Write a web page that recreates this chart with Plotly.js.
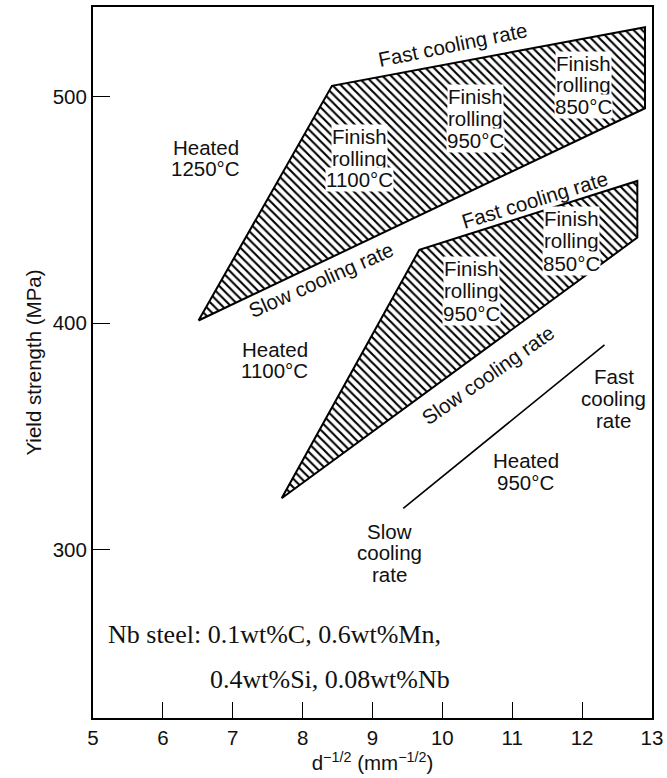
<!DOCTYPE html>
<html>
<head>
<meta charset="utf-8">
<script src="https://cdn.plot.ly/plotly-3.0.1.min.js"></script>
<style>html,body{margin:0;padding:0;background:#fff;}#chart{width:667px;height:778px;}</style>
</head>
<body>
<div id="chart"></div>
<script>
// ---- data ----
const heated1250X = [6.51, 8.42, 12.90, 12.90, 6.51];
const heated1250Y = [401.2, 504.8, 530.7, 494.9, 401.2];
const heated1100X = [7.70, 9.67, 12.79, 12.79, 7.70];
const heated1100Y = [322.7, 432.4, 462.8, 437.8, 322.7];
const heated950X = [9.44, 12.32];
const heated950Y = [318.3, 390.4];
const xTicks = [5, 6, 7, 8, 9, 10, 11, 12, 13];
const yTicks = [300, 400, 500];

// ---- label texts ----
const lblHeated1250 = ["Heated", "1250°C"];
const lblHeated1100 = ["Heated", "1100°C"];
const lblHeated950 = ["Heated", "950°C"];
const lblFR1100 = ["Finish", "rolling", "1100°C"];
const lblFR950a = ["Finish", "rolling", "950°C"];
const lblFR850a = ["Finish", "rolling", "850°C"];
const lblFR950b = ["Finish", "rolling", "950°C"];
const lblFR850b = ["Finish", "rolling", "850°C"];
const lblFastRight = ["Fast", "cooling", "rate"];
const lblSlowBottom = ["Slow", "cooling", "rate"];
const lblFast = "Fast cooling rate";
const lblSlow = "Slow cooling rate";
const noteLines = ["Nb steel: 0.1wt%C, 0.6wt%Mn,", "0.4wt%Si, 0.08wt%Nb"];

const SANS = "Liberation Sans, Arial, Helvetica, sans-serif";
const SERIF = "Liberation Serif, Times New Roman, serif";
const INK = "#111";
const sansFont = {family: SANS, size: 20.5, color: INK};

const hatch = {shape: "\\", size: 6, solidity: 0.35, fgcolor: "#000", bgcolor: "#fff"};

const traces = [
  {x: heated1250X, y: heated1250Y, type: "scatter", mode: "lines", fill: "toself",
   fillcolor: "#fff", fillpattern: hatch, line: {color: "#000", width: 2}, hoverinfo: "skip"},
  {x: heated1100X, y: heated1100Y, type: "scatter", mode: "lines", fill: "toself",
   fillcolor: "#fff", fillpattern: hatch, line: {color: "#000", width: 2}, hoverinfo: "skip"},
  {x: heated950X, y: heated950Y, type: "scatter", mode: "lines",
   line: {color: "#000", width: 1.6}, hoverinfo: "skip"}
];

const annotations = [];
function addLabel(x, y, lines, spacing, bg) {
  lines.forEach((t, i) => annotations.push({
    x: x, y: y, xref: "x", yref: "y", text: t, showarrow: false,
    yshift: -i * spacing, font: sansFont, xanchor: "center", yanchor: "middle",
    bgcolor: bg ? "#fff" : "rgba(0,0,0,0)", borderpad: 0
  }));
}
function addRot(x, y, text, angle) {
  annotations.push({x: x, y: y, xref: "x", yref: "y", text: text, showarrow: false,
    textangle: angle, font: sansFont, xanchor: "center", yanchor: "middle"});
}

addLabel(6.615, 477.4, lblHeated1250, 21, false);
addLabel(8.82, 482.4, lblFR1100, 21.7, true);
addLabel(10.47, 500.0, lblFR950a, 21.7, true);
addLabel(12.02, 514.8, lblFR850a, 21.7, true);
addLabel(7.60, 388.2, lblHeated1100, 21, false);
addLabel(10.42, 424.3, lblFR950b, 22.5, true);
addLabel(11.85, 446.4, lblFR850b, 22.5, true);
addLabel(12.45, 376.4, lblFastRight, 21.7, false);
addLabel(11.195, 339.2, lblHeated950, 21.5, false);
addLabel(9.25, 308.2, lblSlowBottom, 21.5, false);

addRot(10.153, 522.9, lblFast, -11.5);
addRot(8.27, 419.1, lblSlow, -24);
addRot(11.33, 454.4, lblFast, -17);
addRot(10.66, 377.2, lblSlow, -35);

annotations.push({x: 5.19, y: 262.4, xref: "x", yref: "y", text: noteLines[0], showarrow: false,
  xanchor: "left", yanchor: "middle", font: {family: SERIF, size: 26, color: INK}});
annotations.push({x: 6.648, y: 242.5, xref: "x", yref: "y", text: noteLines[1], showarrow: false,
  xanchor: "left", yanchor: "middle", font: {family: SERIF, size: 26, color: INK}});

const layout = {
  width: 667, height: 778,
  margin: {l: 93, r: 15, t: 7, b: 60, pad: 0},
  paper_bgcolor: "#fff", plot_bgcolor: "#fff",
  showlegend: false,
  xaxis: {
    range: [5, 13], tickvals: xTicks, ticktext: xTicks.map(String),
    ticks: "inside", ticklen: 16, tickwidth: 1, tickcolor: "#000",
    showline: true, linewidth: 2, linecolor: "#000", mirror: true,
    showgrid: false, zeroline: false, automargin: false,
    tickfont: {family: SANS, size: 20.5, color: INK},
    title: {text: "d<sup>−1/2</sup> (mm<sup>−1/2</sup>)", font: {family: SANS, size: 20.5, color: INK}, standoff: 4}
  },
  yaxis: {
    range: [225.7, 539.6], tickvals: yTicks, ticktext: yTicks.map(String),
    ticks: "inside", ticklen: 17, tickwidth: 1, tickcolor: "#000",
    showline: true, linewidth: 2, linecolor: "#000", mirror: true,
    showgrid: false, zeroline: false, automargin: false,
    tickfont: {family: SANS, size: 20.5, color: INK},
    title: {text: "Yield strength (MPa)", font: {family: SANS, size: 20.5, color: INK}, standoff: 6}
  },
  annotations: annotations
};

Plotly.newPlot("chart", traces, layout, {staticPlot: true, displayModeBar: false});
</script>
</body>
</html>
